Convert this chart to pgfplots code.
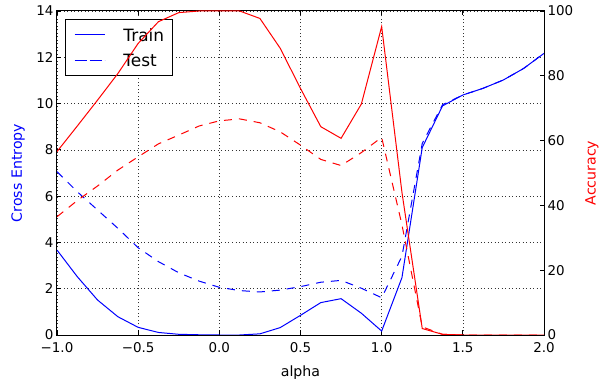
\documentclass[border=0pt]{standalone}
\usepackage{pgfplots}
\usepackage{pgfplotstable}
\pgfplotsset{compat=1.18}
\usepackage{fontspec}
\setmainfont{DejaVu Sans}
\pgfplotstableread{
a       cetrain cetest acctrain acctest
-1.000  3.67    7.06   56.6     36.5
-0.875  2.52    6.19   64.5     41.5
-0.750  1.51    5.40   72.5     46.0
-0.625  0.79    4.61   80.7     50.9
-0.500  0.33    3.77   90.0     55.0
-0.375  0.11    3.17   96.7     59.0
-0.250  0.03    2.69   99.5     61.7
-0.125  0.01    2.33   100      64.5
0.000   0.00    2.06   100      66.1
0.125   0.00    1.92   100      66.7
0.250   0.05    1.86   97.7     65.5
0.375   0.32    1.94   88.5     62.7
0.500   0.85    2.09   76.1     58.6
0.625   1.40    2.28   64.3     54.2
0.750   1.57    2.36   60.7     52.3
0.875   0.94    2.02   71.3     56.3
1.000   0.17    1.61   95.2     61.0
1.125   2.48    3.40   44.0     34.0
1.250   8.10    8.28   2.0      2.5
1.375   9.90    9.95   0.2      0.2
1.500   10.37   10.37  0        0
1.625   10.66   10.66  0        0
1.750   11.02   11.02  0        0
1.875   11.52   11.52  0        0
2.000   12.17   12.17  0        0
}\data
\begin{document}
\begin{tikzpicture}
\path[use as bounding box] (-57bp,-46bp) rectangle (542bp,335bp);
\begin{axis}[
  at={(0,0)}, anchor=south west,
  scale only axis, width=487bp, height=324bp,
  xmin=-1, xmax=2, ymin=0, ymax=14,
  xtick={-1,-0.5,0,0.5,1,1.5,2},
  xticklabels={−1.0,−0.5,0.0,0.5,1.0,1.5,2.0},
  ytick={0,2,...,14},
  ytick pos=left,
  tick align=inside,
  major tick length=4.5bp,
  tick style={black, line width=0.8bp},
  grid=major,
  major grid style={black!80, line width=0.5bp, dash pattern=on 1bp off 2.5bp},
  axis line style={line width=1bp},
  ticklabel style={font=\fontsize{13.5}{16}\selectfont},
  xticklabel style={yshift=-4bp},
  /pgf/number format/assume math mode=true,
  xlabel={alpha},
  ylabel={Cross Entropy},
  label style={font=\fontsize{14.2}{17}\selectfont},
  xlabel style={at={(axis description cs:0.5,-0.115)}, anchor=center},
  ylabel style={blue, at={(axis description cs:-0.08,0.5)}, anchor=center},
  legend style={at={(0.017,0.974)}, anchor=north west, draw=black, line width=1bp, fill=white,
    font=\fontsize{17}{20}\selectfont, inner xsep=8.4bp, inner ysep=8.5bp, row sep=13bp,
    nodes={inner sep=0pt, text depth=0pt},
    /tikz/every odd column/.append style={column sep=18.3bp}},
  legend cell align=left,
  legend image code/.code={\path (0bp,0bp) -- (30bp,0bp); \draw[#1, draw=blue] (4bp,0bp) -- (30bp,0bp);},
]
\addplot[blue, line width=1bp] table[x=a, y=cetrain] {\data};
\addlegendentry{Train}
\addplot[blue, line width=1bp, dash pattern=on 8bp off 7bp] table[x=a, y=cetest] {\data};
\addlegendentry{Test}
\end{axis}
\begin{axis}[
  at={(0,0)}, anchor=south west,
  scale only axis, width=487bp, height=324bp,
  xmin=-1, xmax=2, ymin=0, ymax=100,
  axis x line=none,
  axis y line*=right,
  ytick={0,20,...,100},
  tick align=inside,
  major tick length=4.5bp,
  tick style={black, line width=0.8bp},
  axis line style={line width=1bp},
  ticklabel style={font=\fontsize{13.5}{16}\selectfont},
  /pgf/number format/assume math mode=true,
  ylabel={Accuracy},
  label style={font=\fontsize{14.2}{17}\selectfont},
  ylabel style={red, at={(axis description cs:1.0986,0.5)}, anchor=center, rotate=0},
]
\addplot[red, line width=1bp] table[x=a, y=acctrain] {\data};
\addplot[red, line width=1bp, dash pattern=on 8bp off 7bp] table[x=a, y=acctest] {\data};
\end{axis}
\end{tikzpicture}
\end{document}
